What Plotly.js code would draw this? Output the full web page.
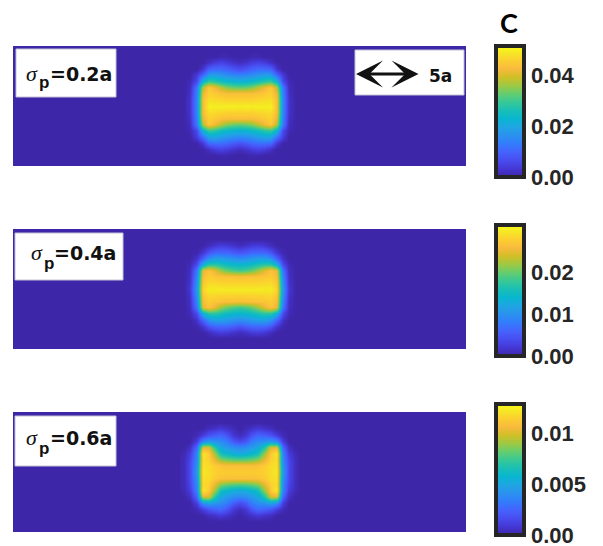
<!DOCTYPE html>
<html>
<head>
<meta charset="utf-8">
<script src="https://cdn.plot.ly/plotly-3.0.1.min.js"></script>
<style>html,body{margin:0;padding:0;background:#fff;}#plot{width:603px;height:546px;}</style>
</head>
<body>
<div id="plot"></div>
<script>
// grid coordinates (units of a), centred on the particle
const xCoord = [-4.5,-4,-3.5,-3,-2.5,-2,-1.5,-1,-0.5,0,0.5,1,1.5,2,2.5,3,3.5,4,4.5];
const yCoord = [-4,-3.5,-3,-2.5,-2,-1.5,-1,-0.5,0,0.5,1,1.5,2,2.5,3,3.5,4];

// concentration maps, values in units of 1e-3 (rows follow yCoord)
const C_02 = [
 [0,0,0,0,0,0,0.5,0.5,0,0,0,0.5,0.5,0,0,0,0,0,0],
 [0,0,0,0,2,4,5,4,2.5,1.5,2.5,4,5,4,2,0,0,0,0],
 [0,0,0,3,10,11,11,10,8,7,8,10,11,11,10,3,0,0,0],
 [0,0,4,11,19,19.5,18,16.5,15.5,15,15.5,16.5,18,19.5,19,11,4,0,0],
 [0,1,6,23,29.5,28,25.5,24,23,22.5,23,24,25.5,28,29.5,23,6,1,0],
 [0,1.5,13,37,45,42,38,34.5,33,32.5,33,34.5,38,42,45,37,13,1.5,0],
 [0,2,14,41,46,45,44,43.5,43.5,43.5,43.5,43.5,44,45,46,41,14,2,0],
 [0,2.5,15,43,47.5,47,46.5,46,46,46,46,46,46.5,47,47.5,43,15,2.5,0],
 [0,2.5,15,43,50,49.5,50,49.5,50,49.5,50,49.5,50,49.5,50,43,15,2.5,0],
 [0,2.5,15,43,47.5,47,46.5,46,46,46,46,46,46.5,47,47.5,43,15,2.5,0],
 [0,2,14,41,46,45,44,43.5,43.5,43.5,43.5,43.5,44,45,46,41,14,2,0],
 [0,1.5,13,37,45,42,38,34.5,33,32.5,33,34.5,38,42,45,37,13,1.5,0],
 [0,1,6,23,29.5,28,25.5,24,23,22.5,23,24,25.5,28,29.5,23,6,1,0],
 [0,0,4,11,19,19.5,18,16.5,15.5,15,15.5,16.5,18,19.5,19,11,4,0,0],
 [0,0,0,3,10,11,11,10,8,7,8,10,11,11,10,3,0,0,0],
 [0,0,0,0,2,4,5,4,2.5,1.5,2.5,4,5,4,2,0,0,0,0],
 [0,0,0,0,0,0,0.5,0.5,0,0,0,0.5,0.5,0,0,0,0,0,0]
];
const C_04 = [
 [0,0,0,0,0,0,0,0,0,0,0,0,0,0,0,0,0,0,0],
 [0,0,0,0,0.9,1.9,2.5,2.2,1.5,0.9,1.5,2.2,2.5,1.9,0.9,0,0,0,0],
 [0,0,0.3,1.9,4.6,6.2,6.2,6.2,5.3,4.6,5.3,6.2,6.2,6.2,4.6,1.9,0.3,0,0],
 [0,0,1.5,5.6,9.9,11.2,11.2,10.5,9.9,9.3,9.9,10.5,11.2,11.2,9.9,5.6,1.5,0,0],
 [0,0.6,3.7,13,17,17,16,14.9,14.3,14,14.3,14.9,16,17,17,13,3.7,0.6,0],
 [0,1,7.5,24.8,26.7,24.8,21.7,19.8,18.6,18,18.6,19.8,21.7,24.8,26.7,24.8,7.5,1,0],
 [0,1.2,9,26,27.5,27,26.8,26.5,26.5,26.3,26.5,26.5,26.8,27,27.5,26,9,1.2,0],
 [0,1.5,10,27,28.5,28.3,28,28,28,28,28,28,28,28.3,28.5,27,10,1.5,0],
 [0,2,11,28,30,29.8,30,29.8,30,29.8,30,29.8,30,29.8,30,28,11,2,0],
 [0,1.5,10,27,28.5,28.3,28,28,28,28,28,28,28,28.3,28.5,27,10,1.5,0],
 [0,1.2,9,26,27.5,27,26.8,26.5,26.5,26.3,26.5,26.5,26.8,27,27.5,26,9,1.2,0],
 [0,1,7.5,24.8,26.7,24.8,21.7,19.8,18.6,18,18.6,19.8,21.7,24.8,26.7,24.8,7.5,1,0],
 [0,0.6,3.7,13,17,17,16,14.9,14.3,14,14.3,14.9,16,17,17,13,3.7,0.6,0],
 [0,0,1.5,5.6,9.9,11.2,11.2,10.5,9.9,9.3,9.9,10.5,11.2,11.2,9.9,5.6,1.5,0,0],
 [0,0,0.3,1.9,4.6,6.2,6.2,6.2,5.3,4.6,5.3,6.2,6.2,6.2,4.6,1.9,0.3,0,0],
 [0,0,0,0,0.9,1.9,2.5,2.2,1.5,0.9,1.5,2.2,2.5,1.9,0.9,0,0,0,0],
 [0,0,0,0,0,0,0,0,0,0,0,0,0,0,0,0,0,0,0]
];
const C_06 = [
 [0,0,0,0,0,0,0,0,0,0,0,0,0,0,0,0,0,0,0],
 [0,0,0,0,0.4,0.6,0.9,0.6,0.3,0,0.3,0.6,0.9,0.6,0.4,0,0,0,0],
 [0,0,0.3,1,1.9,2.3,2.6,1.9,0.8,0.4,0.8,1.9,2.6,2.3,1.9,1,0.3,0,0],
 [0,0,1,3.8,4.5,4.1,3.8,3.3,2,1.5,2,3.3,3.8,4.1,4.5,3.8,1,0,0],
 [0,0.5,2.6,10.2,10,7,5.1,4.5,4.1,3.8,4.1,4.5,5.1,7,10,10.2,2.6,0.5,0],
 [0.2,1,3.6,12.2,11.3,9,6.4,5.8,5.4,5.1,5.4,5.8,6.4,9,11.3,12.2,3.6,1,0.2],
 [0.3,1.3,3.8,11.8,11.5,10.2,8.7,8.2,7.9,7.9,7.9,8.2,8.7,10.2,11.5,11.8,3.8,1.3,0.3],
 [0.3,1.5,4.2,12,11.8,11.3,11,10.9,10.9,10.9,10.9,10.9,11,11.3,11.8,12,4.2,1.5,0.3],
 [0.3,1.5,4.5,12.2,11.9,11.5,11.3,11.3,11.3,11.3,11.3,11.3,11.3,11.5,11.9,12.2,4.5,1.5,0.3],
 [0.3,1.5,4.2,12,11.8,11.3,11,10.9,10.9,10.9,10.9,10.9,11,11.3,11.8,12,4.2,1.5,0.3],
 [0.3,1.3,3.8,11.8,11.5,10.2,8.7,8.2,7.9,7.9,7.9,8.2,8.7,10.2,11.5,11.8,3.8,1.3,0.3],
 [0.2,1,3.6,12.2,11.3,9,6.4,5.8,5.4,5.1,5.4,5.8,6.4,9,11.3,12.2,3.6,1,0.2],
 [0,0.5,2.6,10.2,10,7,5.1,4.5,4.1,3.8,4.1,4.5,5.1,7,10,10.2,2.6,0.5,0],
 [0,0,1,3.8,4.5,4.1,3.8,3.3,2,1.5,2,3.3,3.8,4.1,4.5,3.8,1,0,0],
 [0,0,0.3,1,1.9,2.3,2.6,1.9,0.8,0.4,0.8,1.9,2.6,2.3,1.9,1,0.3,0,0],
 [0,0,0,0,0.4,0.6,0.9,0.6,0.3,0,0.3,0.6,0.9,0.6,0.4,0,0,0,0],
 [0,0,0,0,0,0,0,0,0,0,0,0,0,0,0,0,0,0,0]
];

const panelLabels = ['=0.2a','=0.4a','=0.6a'];
const colorMax = [51.4, 31.2, 12.84];
const tickVals = [[0,20,40],[0,10,20],[0,5,10]];
const tickText = [['0.00','0.02','0.04'],['0.00','0.01','0.02'],['0.00','0.005','0.01']];

const parula = [
 [0/63,'rgb(62,38,168)'],[4/63,'rgb(69,55,213)'],[8/63,'rgb(72,77,240)'],
 [12/63,'rgb(69,99,253)'],[16/63,'rgb(50,124,252)'],[20/63,'rgb(43,145,239)'],
 [24/63,'rgb(32,165,227)'],[28/63,'rgb(8,181,208)'],[32/63,'rgb(25,191,182)'],
 [36/63,'rgb(55,200,151)'],[40/63,'rgb(100,205,111)'],[44/63,'rgb(157,201,67)'],
 [48/63,'rgb(209,191,39)'],[52/63,'rgb(248,186,61)'],[56/63,'rgb(252,207,48)'],
 [60/63,'rgb(245,233,36)'],[63/63,'rgb(249,251,21)']
];

const W = 603, H = 546;
const px = v => v / W;
const py = v => 1 - v / H;

const panelTop = [46, 229, 412];
const panelH = 120;
const cbCenter = [111.5, 290.5, 469.5];
const maps = [C_02, C_04, C_06];

const traces = maps.map((z, i) => ({
  type: 'heatmap',
  x: xCoord, y: yCoord, z: z,
  xaxis: i === 0 ? 'x' : 'x' + (i + 1),
  yaxis: i === 0 ? 'y' : 'y' + (i + 1),
  zsmooth: 'best',
  colorscale: parula,
  zmin: 0, zmax: colorMax[i],
  hoverinfo: 'skip',
  colorbar: {
    thickness: 28, thicknessmode: 'pixels',
    len: 131, lenmode: 'pixels',
    x: px(496), xanchor: 'left', xpad: 0,
    y: py(cbCenter[i]), yanchor: 'middle', ypad: 0,
    outlinewidth: 4, outlinecolor: '#262626',
    borderwidth: 0,
    tickmode: 'array', tickvals: tickVals[i], ticktext: tickText[i],
    ticks: 'inside', ticklen: 3, tickwidth: 2, tickcolor: '#262626',
    ticklabeloverflow: 'allow',
    tickfont: {family: 'Liberation Sans, Arial, sans-serif', size: 22, color: '#262626', weight: 'bold'}
  }
}));

const layout = {
  width: W, height: H,
  margin: {l: 0, r: 0, t: 0, b: 0, pad: 0},
  paper_bgcolor: '#ffffff',
  plot_bgcolor: 'rgb(62,38,168)',
  showlegend: false,
  shapes: [],
  annotations: []
};
for (let i = 0; i < 3; i++) {
  const sfx = i === 0 ? '' : String(i + 1);
  layout['xaxis' + sfx] = {domain: [px(13), px(466)], range: [-18.27, 18.27], visible: false, fixedrange: true, anchor: 'y' + sfx};
  layout['yaxis' + sfx] = {domain: [py(panelTop[i] + panelH), py(panelTop[i])], range: [-4.84, 4.84], visible: false, fixedrange: true, anchor: 'x' + sfx};
}

// label boxes
const boxes = [[16,116,49,97],[15,123,233,280],[15,116,416,466],[355,464,50,95]];
boxes.forEach(b => layout.shapes.push({type:'rect', xref:'paper', yref:'paper', x0:px(b[0]), x1:px(b[1]), y0:py(b[3]), y1:py(b[2]), fillcolor:'#ffffff', line:{color:'#c4c2d6', width:1}, layer:'above'}));

// sigma_p labels: [sigmaX, sigmaCy, pX, pCy, textX, textCy]
const lab = [[26,73.1,39.5,82.3,50,74.1],[31,252.6,43.5,263.3,54,252.7],[26,437.6,39.5,448.3,50,438.4]];
lab.forEach((l, i) => {
  const base = {xref:'paper', yref:'paper', showarrow:false, xanchor:'left', yanchor:'middle', borderpad:0, borderwidth:0};
  layout.annotations.push(Object.assign({}, base, {x:px(l[0]), y:py(l[1]), text:'σ', font:{family:'Liberation Serif, Times New Roman, serif', size:22, color:'#111', style:'italic'}}));
  layout.annotations.push(Object.assign({}, base, {x:px(l[2]), y:py(l[3]), text:'p', font:{family:'Liberation Sans, Arial, sans-serif', size:17, color:'#111', weight:'bold'}}));
  layout.annotations.push(Object.assign({}, base, {x:px(l[4]), y:py(l[5]), text:panelLabels[i], font:{family:'DejaVu Sans, sans-serif', size:19, color:'#111', weight:'bold'}}));
});

// scale bar
layout.annotations.push({xref:'paper', yref:'paper', x:px(418.5), y:py(74), ax:-64, ay:0, axref:'pixel', ayref:'pixel', text:' ', font:{size:1}, showarrow:true, arrowhead:3, startarrowhead:3, arrowside:'end+start', arrowwidth:3, arrowsize:1.5, startarrowsize:1.5, arrowcolor:'#111', standoff:0, startstandoff:0});
layout.annotations.push({xref:'paper', yref:'paper', x:px(428), y:py(76.1), xanchor:'left', yanchor:'middle', showarrow:false, text:'5a', borderpad:0, font:{family:'DejaVu Sans, sans-serif', size:17, color:'#111', weight:'bold'}});
// panel letter
layout.annotations.push({xref:'paper', yref:'paper', x:px(509), y:py(22.9), xanchor:'center', yanchor:'middle', showarrow:false, text:'C', borderpad:0, font:{family:'Lato, Open Sans, sans-serif', size:27, color:'#000', weight:'bold'}});

Plotly.newPlot('plot', traces, layout, {staticPlot: true, displayModeBar: false});
</script>
</body>
</html>
